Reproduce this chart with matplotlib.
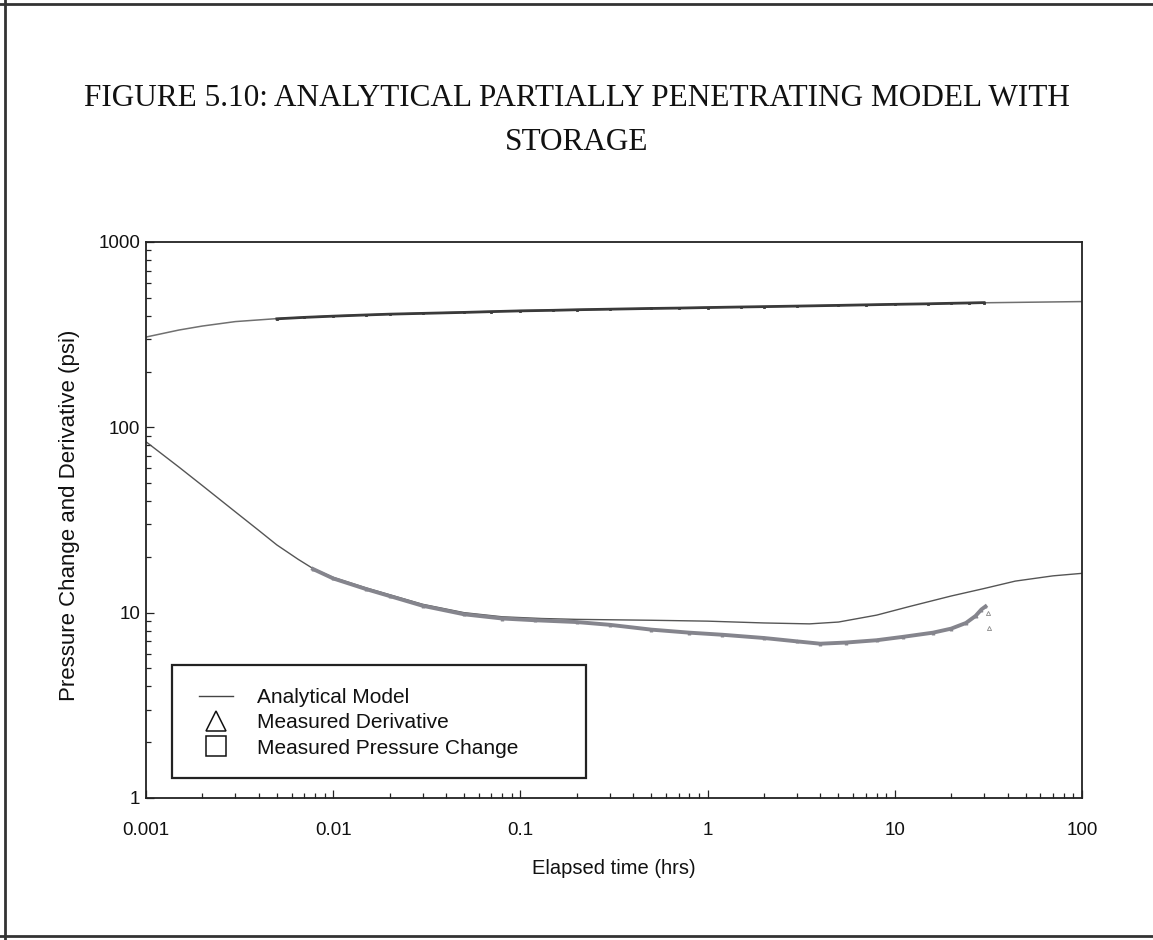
import matplotlib
matplotlib.use("Agg")
import matplotlib.pyplot as plt
from matplotlib.lines import Line2D
from matplotlib.patches import Rectangle
from matplotlib.ticker import LogLocator, NullFormatter

# Analytical model: pressure change (psi) vs elapsed time (hrs)
model_time_p = [0.001, 0.0015, 0.002, 0.003, 0.005, 0.01, 0.02, 0.05, 0.1,
                0.3, 1, 3, 10, 30, 100]
model_dp = [307, 335, 352, 372, 386, 399, 408, 418, 426,
            434, 443, 451, 461, 470, 477]

# Analytical model: pressure derivative (psi)
model_time_d = [0.001, 0.0015, 0.002, 0.003, 0.004, 0.005, 0.0065, 0.0078, 0.01,
                0.015, 0.02, 0.03, 0.05, 0.08, 0.13, 0.2, 0.5, 1, 2, 3.5, 5, 8,
                12, 20, 30, 44, 70, 100]
model_deriv = [83.6, 61, 48.5, 35, 27.8, 23.2, 19.4, 17.3, 15.5,
               13.6, 12.5, 11.1, 10.0, 9.5, 9.3, 9.2, 9.1, 9.0, 8.8, 8.7, 8.9, 9.7,
               10.8, 12.3, 13.5, 14.8, 15.8, 16.3]

# Measured pressure change
meas_time_p = [0.005, 0.007, 0.01, 0.015, 0.02, 0.03, 0.05, 0.07, 0.1, 0.15,
               0.2, 0.3, 0.5, 0.7, 1, 1.5, 2, 3, 5, 7, 10, 15, 20, 25, 30]
meas_dp = [385, 392, 398, 404, 408, 412, 417, 421, 425, 428,
           431, 434, 438, 440, 443, 446, 448, 451, 455, 458, 461, 464, 467, 469, 471]

# Measured pressure derivative
meas_time_d = [0.0078, 0.01, 0.015, 0.02, 0.03, 0.05, 0.08, 0.12, 0.2, 0.3,
               0.5, 0.8, 1.2, 2, 3, 4, 5.5, 8, 11, 16, 20, 24, 27, 29, 30.5]
meas_deriv = [17.2, 15.3, 13.4, 12.3, 10.9, 9.8, 9.3, 9.1, 8.9, 8.6,
              8.1, 7.8, 7.6, 7.3, 7.0, 6.8, 6.9, 7.1, 7.4, 7.8, 8.2, 8.8, 9.6, 10.4, 10.8]
# a few late derivative points off the main trend
late_time_d = [31.5, 32.0]
late_deriv = [10.0, 8.3]

x_ticks = [0.001, 0.01, 0.1, 1, 10, 100]
x_tick_labels = ["0.001", "0.01", "0.1", "1", "10", "100"]
y_ticks = [1, 10, 100, 1000]
y_tick_labels = ["1", "10", "100", "1000"]

title_lines = ["FIGURE 5.10: ANALYTICAL PARTIALLY PENETRATING MODEL WITH", "STORAGE"]
legend_labels = ["Analytical Model", "Measured Derivative", "Measured Pressure Change"]

W, H = 1153, 940
SANS = ["Liberation Sans", "DejaVu Sans"]
SERIF = ["Liberation Serif", "DejaVu Serif"]

plt.rcParams["font.family"] = SANS
fig = plt.figure(figsize=(W / 100, H / 100), dpi=100)
fig.patch.set_facecolor("white")


def fx(px):
    return px / W


def fy(py):
    return 1 - py / H


# page border
for (x0, y0, x1, y1) in [(5, 0, 5, H), (0, 4, W, 4), (0, 936, W, 936)]:
    fig.add_artist(Line2D([fx(x0), fx(x1)], [fy(y0), fy(y1)], color="#333333",
                          lw=2.0, transform=fig.transFigure))

# title
fig.text(0.5, fy(99), title_lines[0], family=SERIF, fontsize=22.5,
         ha="center", va="center", color="#111111")
fig.text(0.5, fy(143), title_lines[1], family=SERIF, fontsize=22.5,
         ha="center", va="center", color="#111111")

ax_l, ax_r, ax_t, ax_b = 146, 1082, 242, 798
ax = fig.add_axes([fx(ax_l), fy(ax_b), (ax_r - ax_l) / W, (ax_b - ax_t) / H])
ax.set_xscale("log")
ax.set_yscale("log")
ax.set_xlim(0.001, 100)
ax.set_ylim(1, 1000)

ax.plot(model_time_p, model_dp, color="#707070", lw=1.1, zorder=2)
ax.plot(model_time_d, model_deriv, color="#555555", lw=1.0, zorder=2)
ax.plot(meas_time_p, meas_dp, color="#3a3a3a", lw=2.0, marker="s", ms=1.8,
        mew=0.6, zorder=3)
ax.plot(meas_time_d, meas_deriv, color="#85858d", lw=2.8, marker="^", ms=2.2,
        mew=0.6, zorder=3)
ax.plot(late_time_d, late_deriv, ls="none", color="#8a8a8a", marker="^", ms=3,
        mew=0.6, mfc="none", zorder=3)

ax.set_xticks(x_ticks)
ax.set_xticklabels(x_tick_labels)
ax.set_yticks(y_ticks)
ax.set_yticklabels(y_tick_labels)
ax.xaxis.set_minor_locator(LogLocator(base=10, subs=range(2, 10)))
ax.yaxis.set_minor_locator(LogLocator(base=10, subs=range(2, 10)))
ax.xaxis.set_minor_formatter(NullFormatter())
ax.yaxis.set_minor_formatter(NullFormatter())
ax.tick_params(which="both", direction="in", top=False, right=False,
               color="#222222", width=0.9)
ax.tick_params(which="major", length=6)
ax.tick_params(which="minor", length=3.5)
ax.tick_params(axis="x", which="major", pad=17, labelsize=13.5, labelcolor="#111111")
ax.tick_params(axis="y", which="major", pad=4, labelsize=13.5, labelcolor="#111111")
for sp in ax.spines.values():
    sp.set_color("#222222")
    sp.set_linewidth(1.3)

fig.text(fx((ax_l + ax_r) / 2), fy(868), "Elapsed time (hrs)", fontsize=14.5,
         ha="center", va="center", color="#111111")
fig.text(fx(70), fy(515), "Pressure Change and Derivative (psi)",
         fontsize=16, rotation=90, ha="center", va="center", color="#111111")

# legend
handles = [
    Line2D([], [], color="#444444", lw=1.0),
    Line2D([], [], ls="none", marker="^", ms=14, mfc="none", mec="#111111", mew=1.1),
    Line2D([], [], ls="none", marker="s", ms=14, mfc="none", mec="#111111", mew=1.1),
]
leg = ax.legend(handles, legend_labels, loc="upper left",
                bbox_to_anchor=(fx(199), fy(688)), bbox_transform=fig.transFigure,
                frameon=False, fontsize=15, handlelength=1.63, handletextpad=1.15,
                labelspacing=0.3, borderpad=0, borderaxespad=0)
for t in leg.get_texts():
    t.set_color("#111111")
fig.add_artist(Rectangle((fx(172), fy(778)), (586 - 172) / W, (778 - 665) / H,
                         transform=fig.transFigure, fill=False,
                         edgecolor="#222222", lw=1.6, zorder=5))

fig.savefig("out.png", dpi=100, facecolor="white")
